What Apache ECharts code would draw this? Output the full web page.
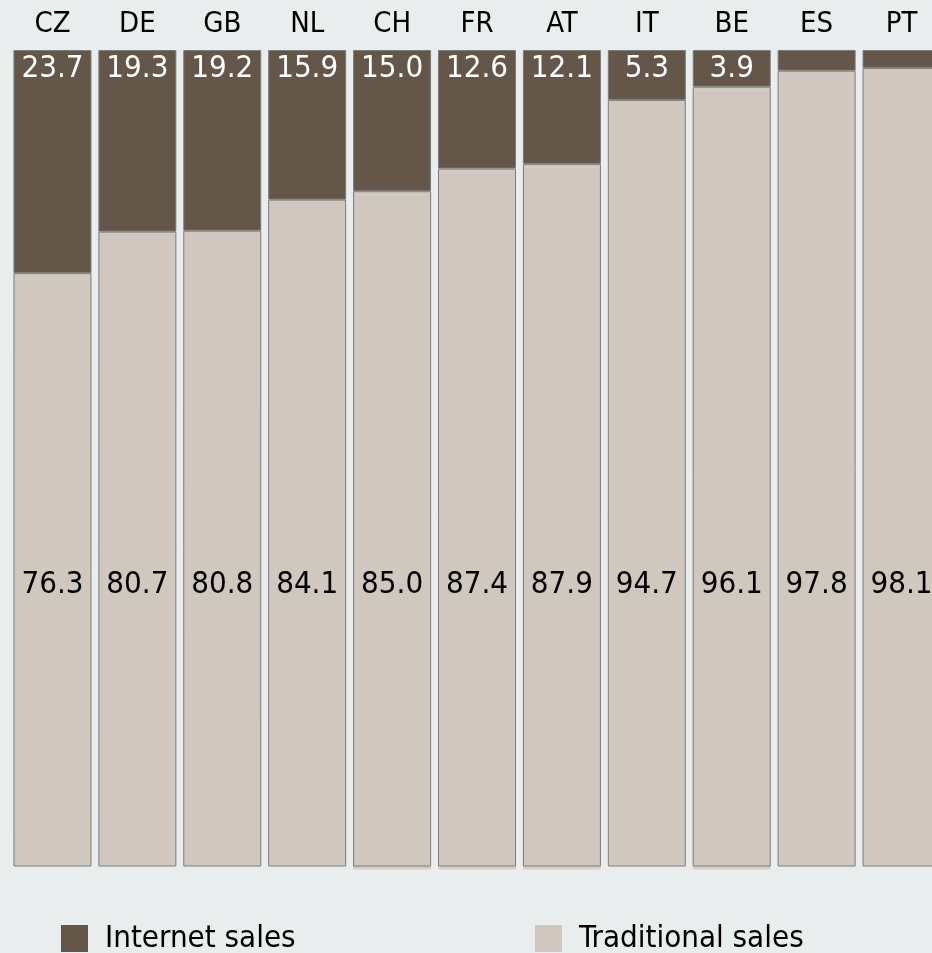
<!DOCTYPE html>
<html>
<head>
<meta charset="utf-8">
<title>Internet vs traditional sales</title>
<script src="https://cdn.jsdelivr.net/npm/echarts@6/dist/echarts.min.js"></script>
<style>
  html, body { margin: 0; padding: 0; background: #e9edee; }
  #chart { width: 932px; height: 953px; }
</style>
</head>
<body>
<div id="chart"></div>
<script>
// Share of sales by channel, per country (%)
const countries = ['CZ', 'DE', 'GB', 'NL', 'CH', 'FR', 'AT', 'IT', 'BE', 'ES', 'PT'];
const internetSales = [23.7, 19.3, 19.2, 15.9, 15.0, 12.6, 12.1, 5.3, 3.9, 2.2, 1.9];
const traditionalSales = [76.3, 80.7, 80.8, 84.1, 85.0, 87.4, 87.9, 94.7, 96.1, 97.8, 98.1];
// Countries whose bars carry a faint drop edge underneath
const droppedEdge = ['CH', 'FR', 'AT', 'BE'];

const FONT = '"DejaVu Sans Condensed", "Liberation Sans Narrow", "DejaVu Sans", sans-serif';
const DARK = '#645649';
const LIGHT = '#d0c8bf';
const EDGE = '#7c7c7c';

const chart = echarts.init(document.getElementById('chart'), null, { renderer: 'canvas' });

const traditionalData = traditionalSales.map((v, i) => {
  if (droppedEdge.indexOf(countries[i]) < 0) return v;
  return {
    value: v,
    itemStyle: { shadowColor: '#d6cfc6', shadowOffsetY: 3, shadowBlur: 0 }
  };
});

const legendText = { fontFamily: FONT, fontSize: 31, color: '#000', padding: [0, 0, 0, 12] };
const legendIcon = { borderWidth: 0 };

chart.setOption({
  backgroundColor: '#e9edee',
  animation: false,
  textStyle: { fontFamily: FONT },
  legend: [
    {
      left: 61, top: 923, padding: 0,
      itemWidth: 27, itemHeight: 27,
      icon: 'rect',
      itemStyle: legendIcon,
      data: ['Internet sales'],
      textStyle: legendText
    },
    {
      left: 535, top: 923, padding: 0,
      itemWidth: 27, itemHeight: 27,
      icon: 'rect',
      itemStyle: legendIcon,
      data: ['Traditional sales'],
      textStyle: legendText
    }
  ],
  // plot area runs a little past the right edge of the page
  grid: {
    left: 10, width: 934, top: 50, bottom: 87,
    containLabel: false,
    outerBoundsMode: 'none'
  },
  xAxis: {
    type: 'category',
    position: 'top',
    data: countries,
    axisLine: { show: false },
    axisTick: { show: false },
    axisLabel: { fontFamily: FONT, fontSize: 29, color: '#000', margin: 11 }
  },
  yAxis: {
    type: 'value',
    min: 13.3,
    max: 100,
    show: false
  },
  series: [
    {
      name: 'Traditional sales',
      type: 'bar',
      stack: 'sales',
      barWidth: 78,
      data: traditionalData,
      itemStyle: { color: LIGHT, borderColor: EDGE, borderWidth: 1 },
      label: {
        show: true,
        position: 'insideBottom',
        distance: 266,
        fontFamily: FONT,
        fontSize: 31,
        lineHeight: 32,
        color: '#000',
        formatter: p => p.value.toFixed(1)
      }
    },
    {
      name: 'Internet sales',
      type: 'bar',
      stack: 'sales',
      barWidth: 78,
      data: internetSales,
      itemStyle: { color: DARK, borderColor: EDGE, borderWidth: 1 },
      label: {
        show: true,
        position: 'insideTop',
        distance: 2,
        fontFamily: FONT,
        fontSize: 31,
        lineHeight: 34,
        color: '#fff',
        formatter: p => (p.value < 3 ? '' : p.value.toFixed(1))
      }
    }
  ]
});
</script>
</body>
</html>
